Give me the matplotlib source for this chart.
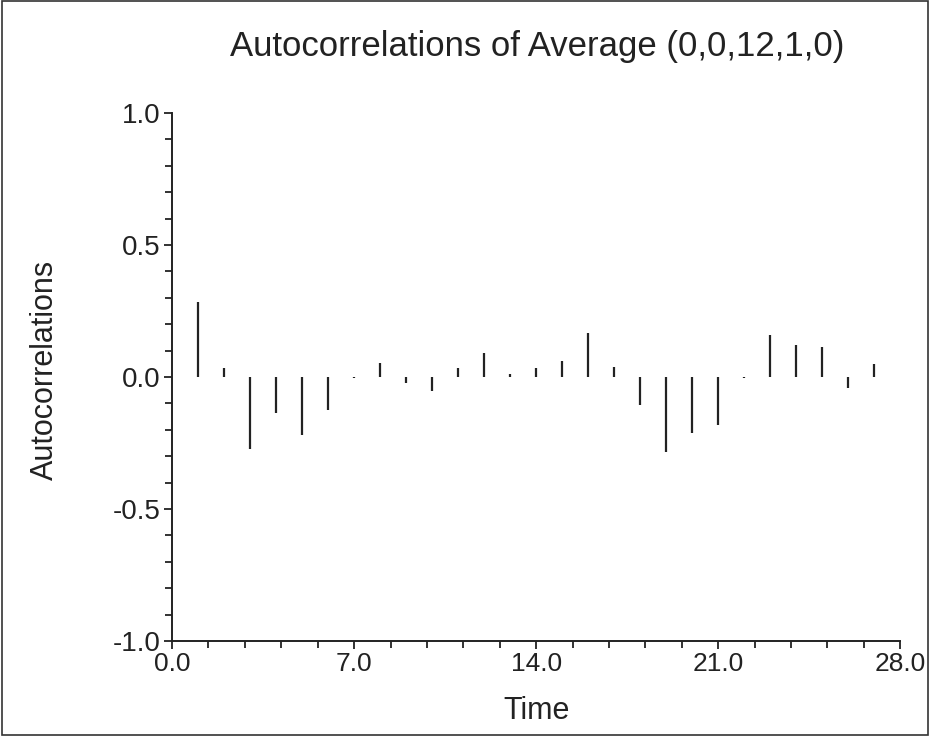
import matplotlib
matplotlib.use("Agg")
import matplotlib.pyplot as plt
from matplotlib.ticker import MultipleLocator, FormatStrFormatter
from matplotlib.patches import Rectangle

lags = list(range(1, 28))
acf = [0.283, 0.033, -0.274, -0.136, -0.220, -0.126, -0.005, 0.054, -0.024,
       -0.055, 0.035, 0.090, 0.013, 0.033, 0.062, 0.167, 0.039, -0.108,
       -0.284, -0.212, -0.183, -0.005, 0.160, 0.120, 0.114, -0.040, 0.049]
title = "Autocorrelations of Average (0,0,12,1,0)"
xlabel = "Time"
ylabel = "Autocorrelations"

plt.rcParams['font.family'] = ['Liberation Sans', 'DejaVu Sans']

fig = plt.figure(figsize=(9.3, 7.36), dpi=100)
ax = fig.add_axes([0.185, 0.1291, 0.783, 0.7174])

ax.vlines(lags, 0, acf, colors='#222222', linewidth=1.6)

ax.set_xlim(0, 28)
ax.set_ylim(-1, 1)
ax.xaxis.set_major_locator(MultipleLocator(7))
ax.xaxis.set_minor_locator(MultipleLocator(1.4))
ax.yaxis.set_major_locator(MultipleLocator(0.5))
ax.yaxis.set_minor_locator(MultipleLocator(0.1))
ax.xaxis.set_major_formatter(FormatStrFormatter('%.1f'))
ax.yaxis.set_major_formatter(FormatStrFormatter('%.1f'))
for s in ['top', 'right']:
    ax.spines[s].set_visible(False)
for s in ['left', 'bottom']:
    ax.spines[s].set_linewidth(1.4)
    ax.spines[s].set_color('#222222')
ax.tick_params(which='major', length=6, width=1.3, color='#222222', labelcolor='#222222')
ax.tick_params(which='minor', length=5, width=1.3, color='#222222')
ax.tick_params(axis='y', labelsize=20, pad=2)
ax.tick_params(axis='x', labelsize=19, pad=2)

fig.text(537 / 930, 1 - 56 / 736, title, fontsize=25, ha='center', va='baseline',
         color='#222222')
fig.text(537 / 930, 1 - 719 / 736, xlabel, fontsize=22, ha='center', va='baseline',
         color='#222222')
fig.text(45 / 930, 1 - 370 / 736, ylabel, fontsize=22, ha='center', va='center',
         rotation=90, color='#222222')

fig.patches.append(Rectangle((0.002, 0.002), 0.996, 0.996, transform=fig.transFigure,
                             fill=False, edgecolor='#333333', linewidth=1.2))

fig.savefig("out.png", dpi=100)
